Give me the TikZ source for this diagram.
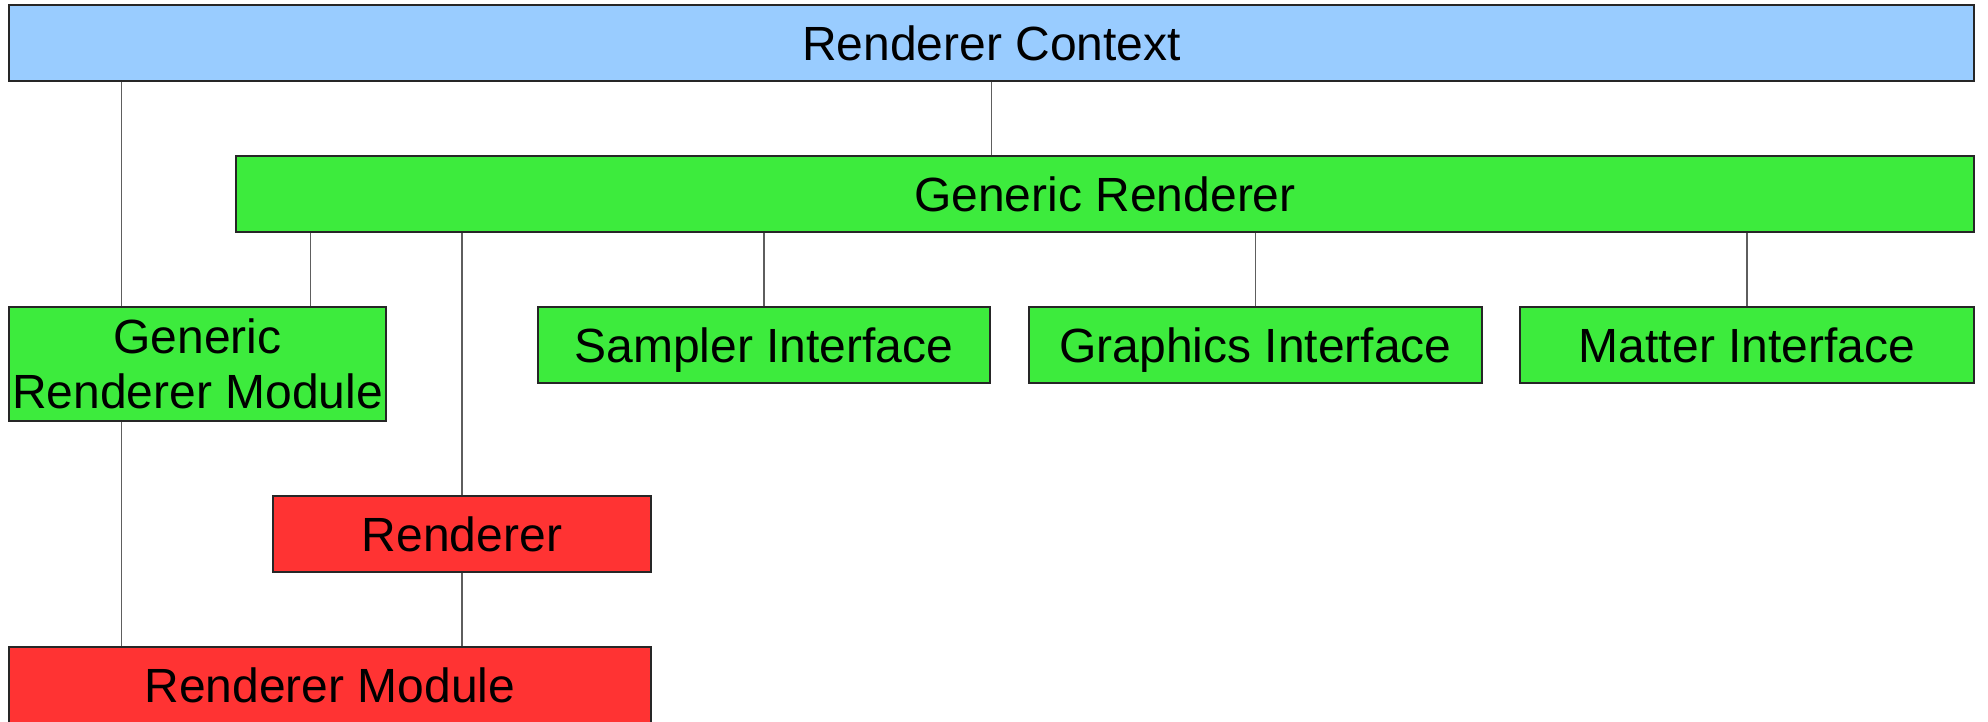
\documentclass[tikz,border=0pt]{standalone}
\usepackage{fontspec}
\setmainfont{Liberation Sans}

\definecolor{ctxblue}{HTML}{99CCFF}
\definecolor{gengreen}{HTML}{3DEB3D}
\definecolor{implred}{HTML}{FF3333}
\definecolor{linkgray}{HTML}{5E5E5E}

\tikzset{
  box/.style={draw=black!85, line width=1.3pt, inner sep=0pt, align=center,
    font=\fontsize{48}{55}\selectfont},
  oneline/.style={text height=43.2pt, text depth=8.8pt},
  ctx/.style={box, oneline, fill=ctxblue},
  generic/.style={box, oneline, fill=gengreen},
  generic2/.style={box, fill=gengreen},
  impl/.style={box, oneline, fill=implred},
  link/.style={draw=linkgray, line width=1.5pt},
}

\begin{document}
\begin{tikzpicture}[x=1pt, y=-1pt]
  \path[use as bounding box] (0,0) rectangle (1988,722);
  \clip (0,0) rectangle (1988,722);

  % boxes
  \node[ctx, minimum width=1965pt, minimum height=76pt] (rc) at (991.5,43) {Renderer Context};
  \node[generic, minimum width=1738pt, minimum height=76pt] (gr) at (1105,194) {Generic Renderer};
  \node[generic2, minimum width=377pt, minimum height=114pt] (grm) at (197.5,364) {Generic\\Renderer Module};
  \node[generic, minimum width=452pt, minimum height=76pt] (sampler) at (764,345) {Sampler Interface};
  \node[generic, minimum width=453pt, minimum height=76pt] (graphics) at (1255.5,345) {Graphics Interface};
  \node[generic, minimum width=454pt, minimum height=76pt] (matter) at (1747,345) {Matter Interface};
  \node[impl, minimum width=378pt, minimum height=76pt] (renderer) at (462,534) {Renderer};
  \node[impl, minimum width=642pt, minimum height=76pt] (rm) at (330,685) {Renderer Module};

  % drop points on the generic module box that are off its centre
  \coordinate (ctxdrop) at ([xshift=113pt]grm.north west);
  \coordinate (gendrop) at ([xshift=302pt]grm.north west);
  \coordinate (moddrop) at ([xshift=113pt]grm.south west);

  % connectors
  \draw[link] (rc.south) -- (rc.south |- gr.north);
  \draw[link] (ctxdrop |- rc.south) -- (ctxdrop);
  \draw[link] (gendrop |- gr.south) -- (gendrop);
  \draw[link] (renderer.north) -- (renderer.north |- gr.south);
  \draw[link] (sampler.north) -- (sampler.north |- gr.south);
  \draw[link] (graphics.north) -- (graphics.north |- gr.south);
  \draw[link] (matter.north) -- (matter.north |- gr.south);
  \draw[link] (moddrop) -- (moddrop |- rm.north);
  \draw[link] (renderer.south) -- (renderer.south |- rm.north);
\end{tikzpicture}
\end{document}
